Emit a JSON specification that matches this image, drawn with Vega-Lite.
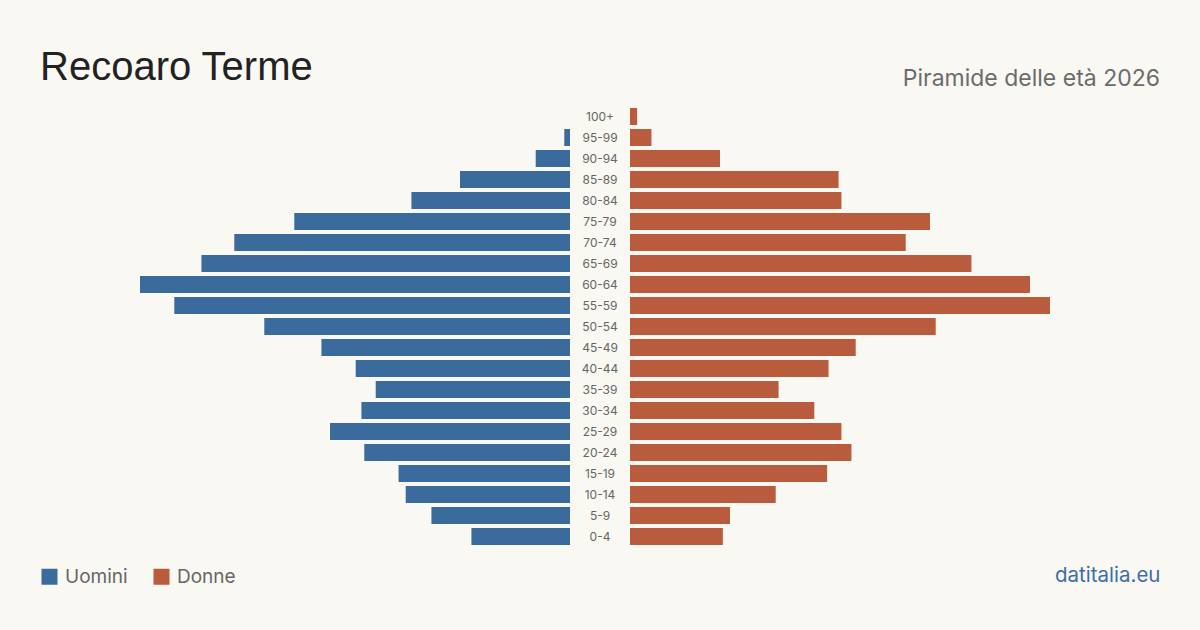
{
  "$schema": "https://vega.github.io/schema/vega-lite/v6.json",
  "background": "#f9f8f3",
  "padding": {"left": 40, "top": 48, "right": 40, "bottom": 43},
  "config": {"view": {"stroke": null}, "font": "Inter"},
  "data": {
    "values": [
      {"eta": "100+", "sesso": "Uomini", "valore": 0},
      {"eta": "95-99", "sesso": "Uomini", "valore": 4},
      {"eta": "90-94", "sesso": "Uomini", "valore": 24},
      {"eta": "85-89", "sesso": "Uomini", "valore": 77},
      {"eta": "80-84", "sesso": "Uomini", "valore": 111},
      {"eta": "75-79", "sesso": "Uomini", "valore": 193},
      {"eta": "70-74", "sesso": "Uomini", "valore": 235},
      {"eta": "65-69", "sesso": "Uomini", "valore": 258},
      {"eta": "60-64", "sesso": "Uomini", "valore": 301},
      {"eta": "55-59", "sesso": "Uomini", "valore": 277},
      {"eta": "50-54", "sesso": "Uomini", "valore": 214},
      {"eta": "45-49", "sesso": "Uomini", "valore": 174},
      {"eta": "40-44", "sesso": "Uomini", "valore": 150},
      {"eta": "35-39", "sesso": "Uomini", "valore": 136},
      {"eta": "30-34", "sesso": "Uomini", "valore": 146},
      {"eta": "25-29", "sesso": "Uomini", "valore": 168},
      {"eta": "20-24", "sesso": "Uomini", "valore": 144},
      {"eta": "15-19", "sesso": "Uomini", "valore": 120},
      {"eta": "10-14", "sesso": "Uomini", "valore": 115},
      {"eta": "5-9", "sesso": "Uomini", "valore": 97},
      {"eta": "0-4", "sesso": "Uomini", "valore": 69},
      {"eta": "100+", "sesso": "Donne", "valore": 5},
      {"eta": "95-99", "sesso": "Donne", "valore": 15},
      {"eta": "90-94", "sesso": "Donne", "valore": 63},
      {"eta": "85-89", "sesso": "Donne", "valore": 146},
      {"eta": "80-84", "sesso": "Donne", "valore": 148},
      {"eta": "75-79", "sesso": "Donne", "valore": 210},
      {"eta": "70-74", "sesso": "Donne", "valore": 193},
      {"eta": "65-69", "sesso": "Donne", "valore": 239},
      {"eta": "60-64", "sesso": "Donne", "valore": 280},
      {"eta": "55-59", "sesso": "Donne", "valore": 294},
      {"eta": "50-54", "sesso": "Donne", "valore": 214},
      {"eta": "45-49", "sesso": "Donne", "valore": 158},
      {"eta": "40-44", "sesso": "Donne", "valore": 139},
      {"eta": "35-39", "sesso": "Donne", "valore": 104},
      {"eta": "30-34", "sesso": "Donne", "valore": 129},
      {"eta": "25-29", "sesso": "Donne", "valore": 148},
      {"eta": "20-24", "sesso": "Donne", "valore": 155},
      {"eta": "15-19", "sesso": "Donne", "valore": 138},
      {"eta": "10-14", "sesso": "Donne", "valore": 102},
      {"eta": "5-9", "sesso": "Donne", "valore": 70},
      {"eta": "0-4", "sesso": "Donne", "valore": 65}
    ]
  },
  "spacing": 0,
  "resolve": {"scale": {"color": "independent"}, "legend": {"color": "independent"}},
  "hconcat": [
    {
      "width": 530,
      "height": 441,
      "title": {"text": "Recoaro Terme", "anchor": "start", "frame": "group", "font": "Liberation Sans", "fontSize": 40, "fontWeight": "normal", "color": "#222222", "baseline": "alphabetic", "offset": -14},
      "transform": [{"filter": "datum.sesso === 'Uomini'"}],
      "mark": {"type": "bar"},
      "encoding": {
        "y": {"field": "eta", "type": "nominal", "sort": null, "axis": null, "scale": {"paddingInner": 0.19, "paddingOuter": 0.095}},
        "x": {"field": "valore", "type": "quantitative", "axis": null, "scale": {"domain": [0, 371], "nice": false, "reverse": true}},
        "color": {
          "field": "sesso", "type": "nominal",
          "scale": {"domain": ["Uomini", "Donne"], "range": ["#3b6b9c", "#b95c3d"]},
          "legend": {"orient": "bottom", "direction": "horizontal", "title": null, "symbolType": "square", "symbolSize": 256, "symbolOpacity": 1, "symbolStrokeWidth": 0, "labelFont": "Inter", "labelFontSize": 19, "labelColor": "#666666", "labelOffset": 6, "columnPadding": 24, "offset": 20}
        }
      }
    },
    {
      "width": 60,
      "height": 441,
      "transform": [{"filter": "datum.sesso === 'Uomini'"}],
      "mark": {"type": "text", "font": "Inter", "fontSize": 12, "color": "#666666"},
      "encoding": {
        "y": {"field": "eta", "type": "nominal", "sort": null, "axis": null, "scale": {"paddingInner": 0.19, "paddingOuter": 0.095}},
        "text": {"field": "eta"}
      }
    },
    {
      "width": 530,
      "height": 441,
      "title": {"text": "Piramide delle età 2026", "anchor": "end", "frame": "group", "font": "Inter", "fontSize": 23, "fontWeight": "normal", "color": "#6b6b6b", "baseline": "alphabetic", "offset": -3},
      "transform": [{"filter": "datum.sesso === 'Donne'"}],
      "mark": {"type": "bar", "color": "#b95c3d"},
      "encoding": {
        "y": {"field": "eta", "type": "nominal", "sort": null, "axis": null, "scale": {"paddingInner": 0.19, "paddingOuter": 0.095}},
        "x": {
          "field": "valore", "type": "quantitative",
          "scale": {"domain": [0, 371], "nice": false},
          "axis": {"title": "datitalia.eu", "labels": false, "ticks": false, "domain": false, "grid": false, "titleAnchor": "end", "titleFont": "Inter", "titleFontSize": 20.5, "titleFontWeight": "normal", "titleColor": "#3d6ea5", "titlePadding": 18}
        }
      }
    }
  ]
}
